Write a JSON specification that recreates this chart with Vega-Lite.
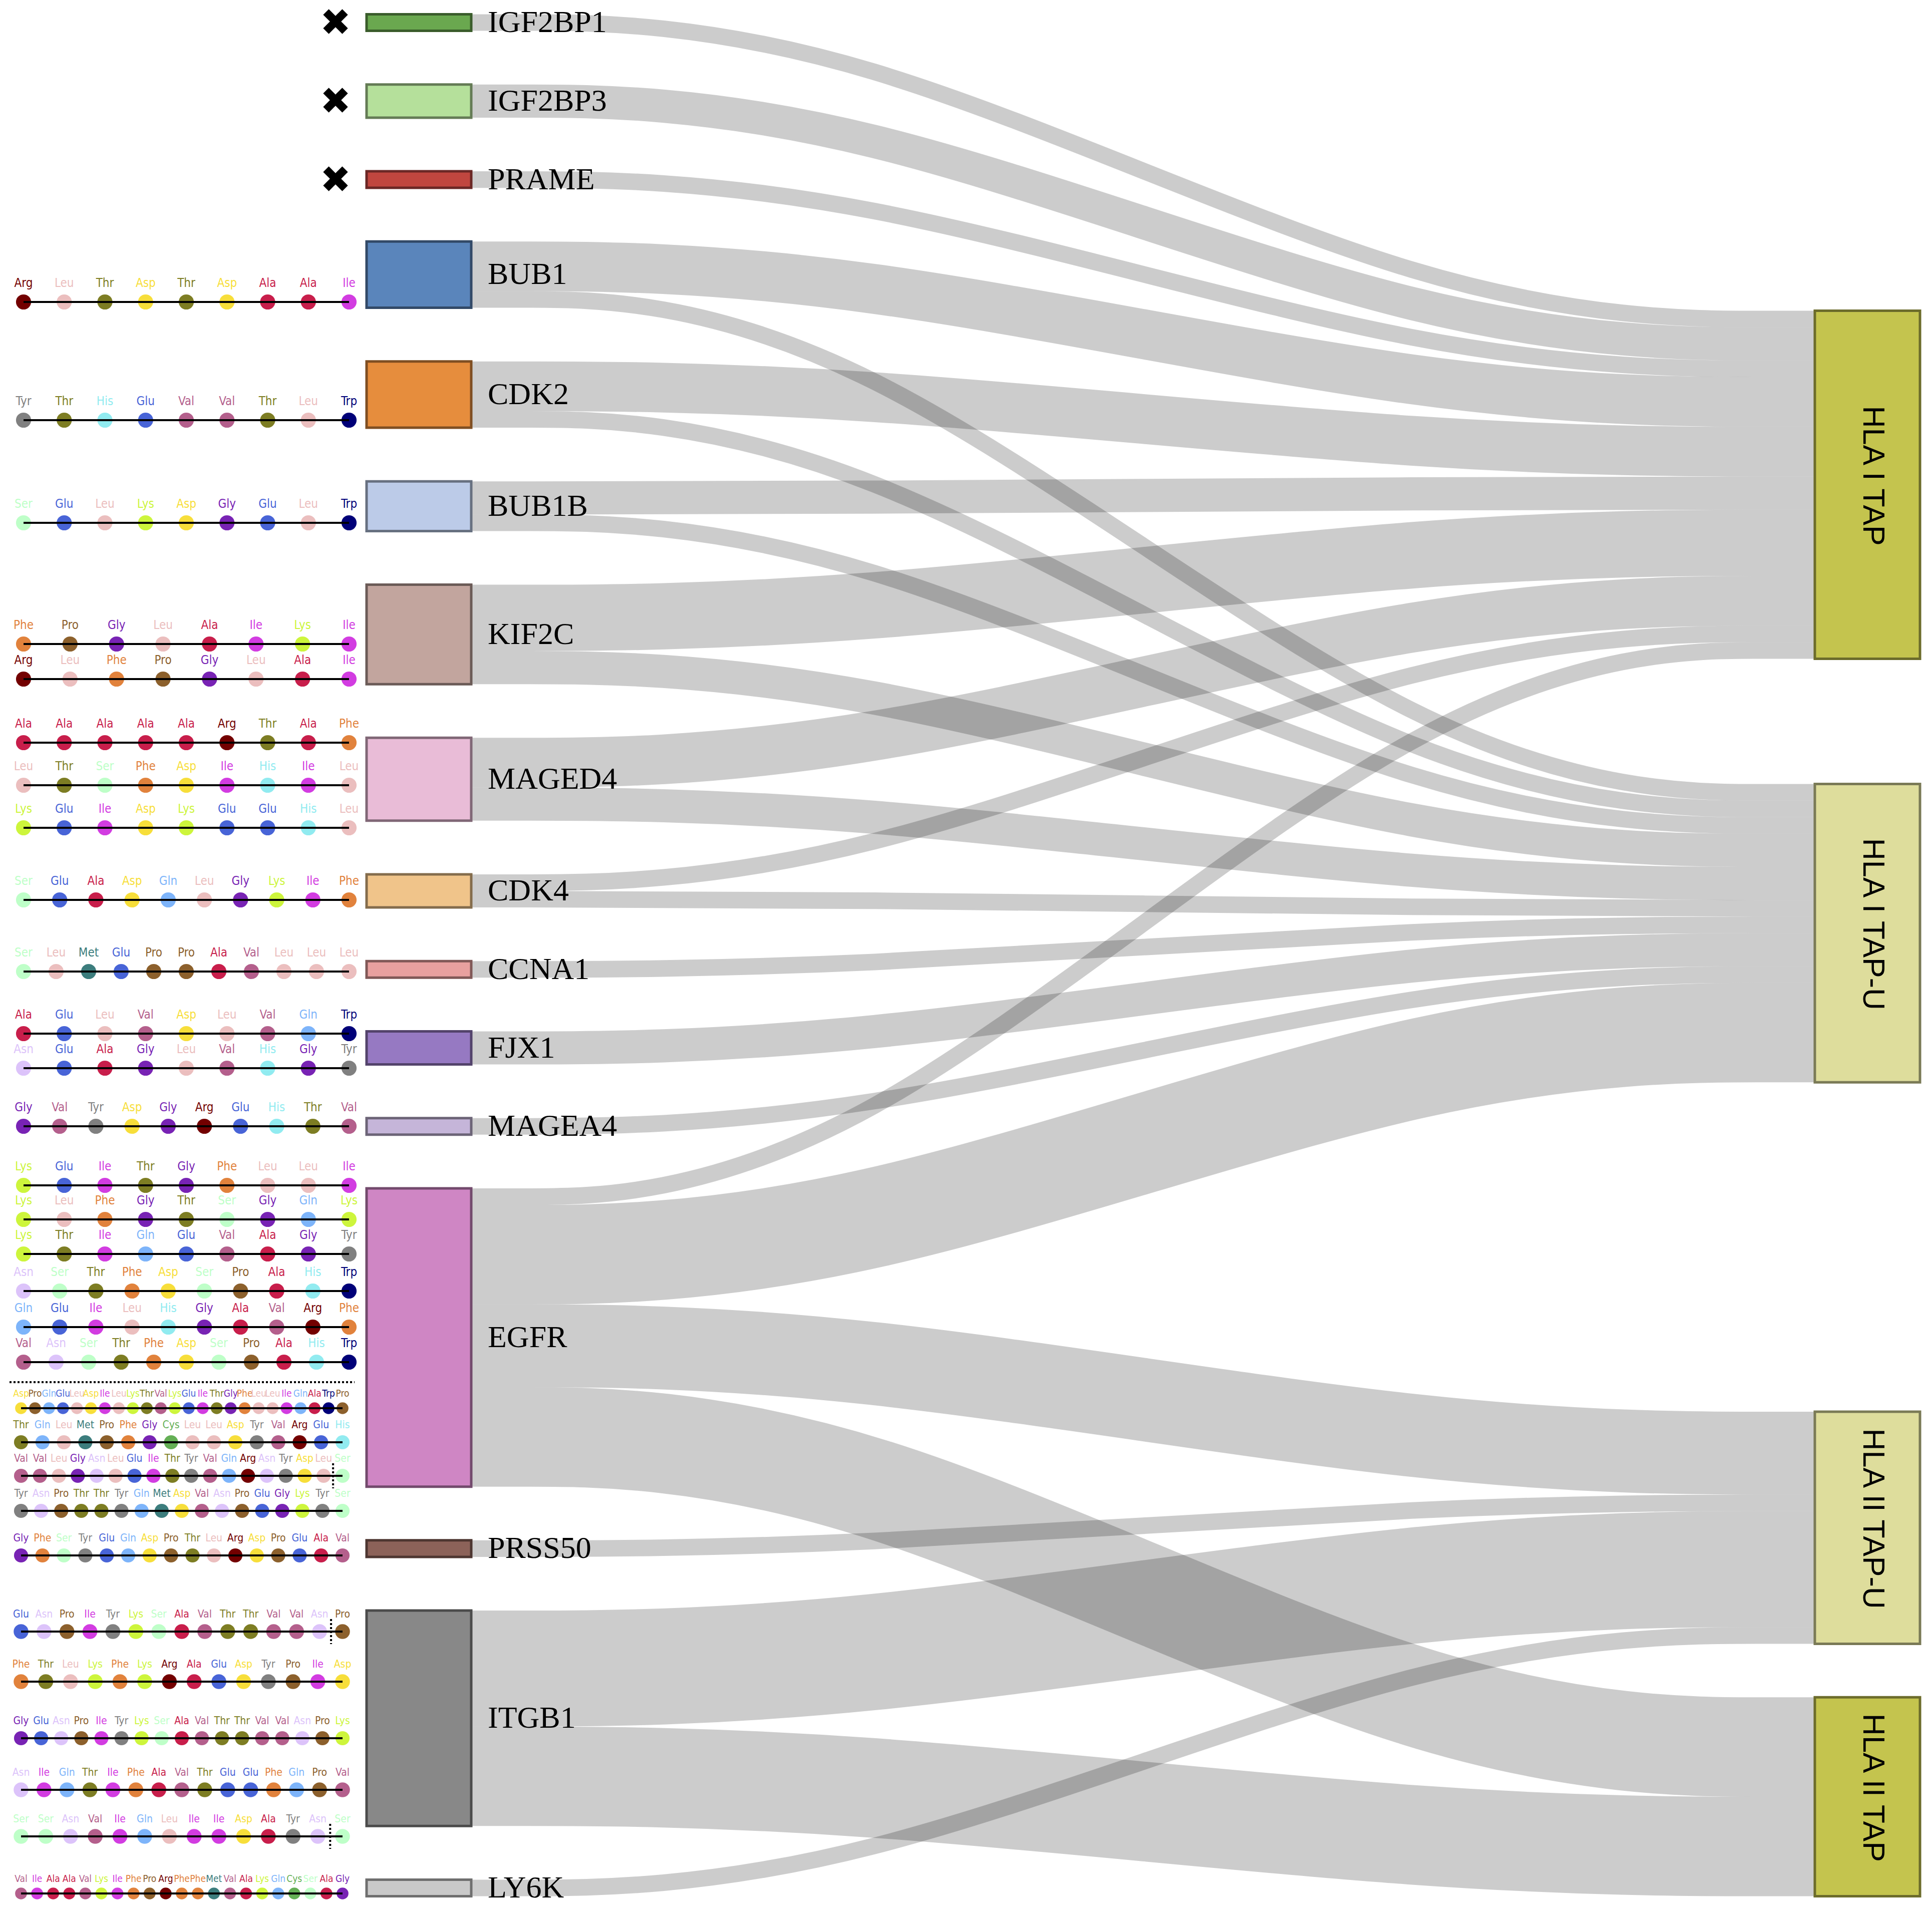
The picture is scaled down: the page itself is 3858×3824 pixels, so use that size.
{
"$schema":"https://vega.github.io/schema/vega-lite/v6.json",
"width":3858,"height":3824,
"autosize":{"type":"none"},
"padding":0,
"background":"white",
"config":{"view":{"stroke":null}},
"datasets":{
"nodes":[
{"name":"IGF2BP1","col":"gene","value":1,"npep":0,"x0":732,"x1":941,"y0":28.5,"y1":61.6},
{"name":"IGF2BP3","col":"gene","value":2,"npep":0,"x0":732,"x1":941,"y0":168.7,"y1":234.9},
{"name":"PRAME","col":"gene","value":1,"npep":0,"x0":732,"x1":941,"y0":342.0,"y1":375.1},
{"name":"BUB1","col":"gene","value":4,"npep":1,"x0":732,"x1":941,"y0":482.2,"y1":614.6},
{"name":"CDK2","col":"gene","value":4,"npep":1,"x0":732,"x1":941,"y0":721.7,"y1":854.1},
{"name":"BUB1B","col":"gene","value":3,"npep":1,"x0":732,"x1":941,"y0":961.2,"y1":1060.5},
{"name":"KIF2C","col":"gene","value":6,"npep":2,"x0":732,"x1":941,"y0":1167.6,"y1":1366.2},
{"name":"MAGED4","col":"gene","value":5,"npep":3,"x0":732,"x1":941,"y0":1473.3,"y1":1638.8},
{"name":"CDK4","col":"gene","value":2,"npep":1,"x0":732,"x1":941,"y0":1745.9,"y1":1812.1},
{"name":"CCNA1","col":"gene","value":1,"npep":1,"x0":732,"x1":941,"y0":1919.2,"y1":1952.3},
{"name":"FJX1","col":"gene","value":2,"npep":2,"x0":732,"x1":941,"y0":2059.4,"y1":2125.6},
{"name":"MAGEA4","col":"gene","value":1,"npep":1,"x0":732,"x1":941,"y0":2232.7,"y1":2265.8},
{"name":"EGFR","col":"gene","value":18,"npep":10,"x0":732,"x1":941,"y0":2372.9,"y1":2968.7},
{"name":"PRSS50","col":"gene","value":1,"npep":1,"x0":732,"x1":941,"y0":3075.8,"y1":3108.9},
{"name":"ITGB1","col":"gene","value":13,"npep":5,"x0":732,"x1":941,"y0":3216.0,"y1":3646.3},
{"name":"LY6K","col":"gene","value":1,"npep":1,"x0":732,"x1":941,"y0":3753.4,"y1":3786.5},
{"name":"HLA I TAP","col":"hla","value":21,"x0":3624,"x1":3834,"y0":620.5,"y1":1315.6},
{"name":"HLA I TAP-U","col":"hla","value":18,"x0":3624,"x1":3834,"y0":1565.5,"y1":2161.3},
{"name":"HLA II TAP-U","col":"hla","value":14,"x0":3624,"x1":3834,"y0":2819,"y1":3282.4},
{"name":"HLA II TAP","col":"hla","value":12,"x0":3624,"x1":3834,"y0":3389.3,"y1":3786.5}
],
"links":[
{"source":"IGF2BP1","target":"HLA I TAP","value":1,"x":941,"y":45.05},{"source":"IGF2BP1","target":"HLA I TAP","value":1,"x":1657,"y":45.05},{"source":"IGF2BP1","target":"HLA I TAP","value":1,"x":2908,"y":637.05},{"source":"IGF2BP1","target":"HLA I TAP","value":1,"x":3624,"y":637.05},
{"source":"IGF2BP3","target":"HLA I TAP","value":2,"x":941,"y":201.8},{"source":"IGF2BP3","target":"HLA I TAP","value":2,"x":1657,"y":201.8},{"source":"IGF2BP3","target":"HLA I TAP","value":2,"x":2908,"y":686.7},{"source":"IGF2BP3","target":"HLA I TAP","value":2,"x":3624,"y":686.7},
{"source":"PRAME","target":"HLA I TAP","value":1,"x":941,"y":358.6},{"source":"PRAME","target":"HLA I TAP","value":1,"x":1657,"y":358.6},{"source":"PRAME","target":"HLA I TAP","value":1,"x":2908,"y":736.35},{"source":"PRAME","target":"HLA I TAP","value":1,"x":3624,"y":736.35},
{"source":"BUB1","target":"HLA I TAP","value":3,"x":941,"y":531.85},{"source":"BUB1","target":"HLA I TAP","value":3,"x":1657,"y":531.85},{"source":"BUB1","target":"HLA I TAP","value":3,"x":2908,"y":802.55},{"source":"BUB1","target":"HLA I TAP","value":3,"x":3624,"y":802.55},
{"source":"BUB1","target":"HLA I TAP-U","value":1,"x":941,"y":598.05},{"source":"BUB1","target":"HLA I TAP-U","value":1,"x":1657,"y":598.05},{"source":"BUB1","target":"HLA I TAP-U","value":1,"x":2908,"y":1582.05},{"source":"BUB1","target":"HLA I TAP-U","value":1,"x":3624,"y":1582.05},
{"source":"CDK2","target":"HLA I TAP","value":3,"x":941,"y":771.35},{"source":"CDK2","target":"HLA I TAP","value":3,"x":1657,"y":771.35},{"source":"CDK2","target":"HLA I TAP","value":3,"x":2908,"y":901.85},{"source":"CDK2","target":"HLA I TAP","value":3,"x":3624,"y":901.85},
{"source":"CDK2","target":"HLA I TAP-U","value":1,"x":941,"y":837.55},{"source":"CDK2","target":"HLA I TAP-U","value":1,"x":1657,"y":837.55},{"source":"CDK2","target":"HLA I TAP-U","value":1,"x":2908,"y":1615.15},{"source":"CDK2","target":"HLA I TAP-U","value":1,"x":3624,"y":1615.15},
{"source":"BUB1B","target":"HLA I TAP","value":2,"x":941,"y":994.3},{"source":"BUB1B","target":"HLA I TAP","value":2,"x":1657,"y":994.3},{"source":"BUB1B","target":"HLA I TAP","value":2,"x":2908,"y":984.6},{"source":"BUB1B","target":"HLA I TAP","value":2,"x":3624,"y":984.6},
{"source":"BUB1B","target":"HLA I TAP-U","value":1,"x":941,"y":1043.95},{"source":"BUB1B","target":"HLA I TAP-U","value":1,"x":1657,"y":1043.95},{"source":"BUB1B","target":"HLA I TAP-U","value":1,"x":2908,"y":1648.25},{"source":"BUB1B","target":"HLA I TAP-U","value":1,"x":3624,"y":1648.25},
{"source":"KIF2C","target":"HLA I TAP","value":4,"x":941,"y":1233.8},{"source":"KIF2C","target":"HLA I TAP","value":4,"x":1657,"y":1233.8},{"source":"KIF2C","target":"HLA I TAP","value":4,"x":2908,"y":1083.9},{"source":"KIF2C","target":"HLA I TAP","value":4,"x":3624,"y":1083.9},
{"source":"KIF2C","target":"HLA I TAP-U","value":2,"x":941,"y":1333.1},{"source":"KIF2C","target":"HLA I TAP-U","value":2,"x":1657,"y":1333.1},{"source":"KIF2C","target":"HLA I TAP-U","value":2,"x":2908,"y":1697.9},{"source":"KIF2C","target":"HLA I TAP-U","value":2,"x":3624,"y":1697.9},
{"source":"MAGED4","target":"HLA I TAP","value":3,"x":941,"y":1522.95},{"source":"MAGED4","target":"HLA I TAP","value":3,"x":1657,"y":1522.95},{"source":"MAGED4","target":"HLA I TAP","value":3,"x":2908,"y":1199.75},{"source":"MAGED4","target":"HLA I TAP","value":3,"x":3624,"y":1199.75},
{"source":"MAGED4","target":"HLA I TAP-U","value":2,"x":941,"y":1605.7},{"source":"MAGED4","target":"HLA I TAP-U","value":2,"x":1657,"y":1605.7},{"source":"MAGED4","target":"HLA I TAP-U","value":2,"x":2908,"y":1764.1},{"source":"MAGED4","target":"HLA I TAP-U","value":2,"x":3624,"y":1764.1},
{"source":"CDK4","target":"HLA I TAP","value":1,"x":941,"y":1762.45},{"source":"CDK4","target":"HLA I TAP","value":1,"x":1657,"y":1762.45},{"source":"CDK4","target":"HLA I TAP","value":1,"x":2908,"y":1265.95},{"source":"CDK4","target":"HLA I TAP","value":1,"x":3624,"y":1265.95},
{"source":"CDK4","target":"HLA I TAP-U","value":1,"x":941,"y":1795.55},{"source":"CDK4","target":"HLA I TAP-U","value":1,"x":1657,"y":1795.55},{"source":"CDK4","target":"HLA I TAP-U","value":1,"x":2908,"y":1813.75},{"source":"CDK4","target":"HLA I TAP-U","value":1,"x":3624,"y":1813.75},
{"source":"CCNA1","target":"HLA I TAP-U","value":1,"x":941,"y":1935.75},{"source":"CCNA1","target":"HLA I TAP-U","value":1,"x":1657,"y":1935.75},{"source":"CCNA1","target":"HLA I TAP-U","value":1,"x":2908,"y":1846.85},{"source":"CCNA1","target":"HLA I TAP-U","value":1,"x":3624,"y":1846.85},
{"source":"FJX1","target":"HLA I TAP-U","value":2,"x":941,"y":2092.5},{"source":"FJX1","target":"HLA I TAP-U","value":2,"x":1657,"y":2092.5},{"source":"FJX1","target":"HLA I TAP-U","value":2,"x":2908,"y":1896.5},{"source":"FJX1","target":"HLA I TAP-U","value":2,"x":3624,"y":1896.5},
{"source":"MAGEA4","target":"HLA I TAP-U","value":1,"x":941,"y":2249.25},{"source":"MAGEA4","target":"HLA I TAP-U","value":1,"x":1657,"y":2249.25},{"source":"MAGEA4","target":"HLA I TAP-U","value":1,"x":2908,"y":1946.15},{"source":"MAGEA4","target":"HLA I TAP-U","value":1,"x":3624,"y":1946.15},
{"source":"EGFR","target":"HLA I TAP","value":1,"x":941,"y":2389.45},{"source":"EGFR","target":"HLA I TAP","value":1,"x":1657,"y":2389.45},{"source":"EGFR","target":"HLA I TAP","value":1,"x":2908,"y":1299.05},{"source":"EGFR","target":"HLA I TAP","value":1,"x":3624,"y":1299.05},
{"source":"EGFR","target":"HLA I TAP-U","value":6,"x":941,"y":2505.3},{"source":"EGFR","target":"HLA I TAP-U","value":6,"x":1657,"y":2505.3},{"source":"EGFR","target":"HLA I TAP-U","value":6,"x":2908,"y":2062.0},{"source":"EGFR","target":"HLA I TAP-U","value":6,"x":3624,"y":2062.0},
{"source":"EGFR","target":"HLA II TAP-U","value":5,"x":941,"y":2687.35},{"source":"EGFR","target":"HLA II TAP-U","value":5,"x":1657,"y":2687.35},{"source":"EGFR","target":"HLA II TAP-U","value":5,"x":2908,"y":2901.75},{"source":"EGFR","target":"HLA II TAP-U","value":5,"x":3624,"y":2901.75},
{"source":"EGFR","target":"HLA II TAP","value":6,"x":941,"y":2869.4},{"source":"EGFR","target":"HLA II TAP","value":6,"x":1657,"y":2869.4},{"source":"EGFR","target":"HLA II TAP","value":6,"x":2908,"y":3488.6},{"source":"EGFR","target":"HLA II TAP","value":6,"x":3624,"y":3488.6},
{"source":"PRSS50","target":"HLA II TAP-U","value":1,"x":941,"y":3092.35},{"source":"PRSS50","target":"HLA II TAP-U","value":1,"x":1657,"y":3092.35},{"source":"PRSS50","target":"HLA II TAP-U","value":1,"x":2908,"y":3001.05},{"source":"PRSS50","target":"HLA II TAP-U","value":1,"x":3624,"y":3001.05},
{"source":"ITGB1","target":"HLA II TAP-U","value":7,"x":941,"y":3331.85},{"source":"ITGB1","target":"HLA II TAP-U","value":7,"x":1657,"y":3331.85},{"source":"ITGB1","target":"HLA II TAP-U","value":7,"x":2908,"y":3133.45},{"source":"ITGB1","target":"HLA II TAP-U","value":7,"x":3624,"y":3133.45},
{"source":"ITGB1","target":"HLA II TAP","value":6,"x":941,"y":3547.0},{"source":"ITGB1","target":"HLA II TAP","value":6,"x":1657,"y":3547.0},{"source":"ITGB1","target":"HLA II TAP","value":6,"x":2908,"y":3687.2},{"source":"ITGB1","target":"HLA II TAP","value":6,"x":3624,"y":3687.2},
{"source":"LY6K","target":"HLA II TAP-U","value":1,"x":941,"y":3769.95},{"source":"LY6K","target":"HLA II TAP-U","value":1,"x":1657,"y":3769.95},{"source":"LY6K","target":"HLA II TAP-U","value":1,"x":2908,"y":3265.85},{"source":"LY6K","target":"HLA II TAP-U","value":1,"x":3624,"y":3265.85}
],
"peptides":[
{"p":"BUB1a","gene":"BUB1","y":603,"n":9},
{"p":"CDK2a","gene":"CDK2","y":839,"n":9},
{"p":"BUB1Ba","gene":"BUB1B","y":1044,"n":9},
{"p":"KIF2Ca","gene":"KIF2C","y":1286,"n":8},
{"p":"KIF2Cb","gene":"KIF2C","y":1356,"n":8},
{"p":"MAGED4a","gene":"MAGED4","y":1483,"n":9},
{"p":"MAGED4b","gene":"MAGED4","y":1568,"n":9},
{"p":"MAGED4c","gene":"MAGED4","y":1653,"n":9},
{"p":"CDK4a","gene":"CDK4","y":1797,"n":10},
{"p":"CCNA1a","gene":"CCNA1","y":1940,"n":11},
{"p":"FJX1a","gene":"FJX1","y":2064,"n":9},
{"p":"FJX1b","gene":"FJX1","y":2133,"n":9},
{"p":"MAGEA4a","gene":"MAGEA4","y":2249,"n":10},
{"p":"EGFRa","gene":"EGFR","y":2367,"n":9},
{"p":"EGFRb","gene":"EGFR","y":2435,"n":9},
{"p":"EGFRc","gene":"EGFR","y":2504,"n":9},
{"p":"EGFRd","gene":"EGFR","y":2578,"n":10},
{"p":"EGFRe","gene":"EGFR","y":2650,"n":10},
{"p":"EGFRf","gene":"EGFR","y":2720,"n":11},
{"p":"EGFRg","gene":"EGFR","y":2812,"n":24},
{"p":"EGFRh","gene":"EGFR","y":2880,"n":16},
{"p":"EGFRi","gene":"EGFR","y":2947,"n":18},
{"p":"EGFRj","gene":"EGFR","y":3017,"n":17},
{"p":"PRSS50a","gene":"PRSS50","y":3106,"n":16},
{"p":"ITGB1a","gene":"ITGB1","y":3258,"n":15},
{"p":"ITGB1b","gene":"ITGB1","y":3358,"n":14},
{"p":"ITGB1c","gene":"ITGB1","y":3471,"n":17},
{"p":"ITGB1d","gene":"ITGB1","y":3574,"n":15},
{"p":"ITGB1e","gene":"ITGB1","y":3667,"n":14},
{"p":"LY6Ka","gene":"LY6K","y":3781,"n":21}
],
"cuts":[
{"p":"EGFRi","at":17.5},
{"p":"ITGB1a","at":14.5},
{"p":"ITGB1e","at":13.5}
],
"dividers":[
{"gene":"EGFR","y":2760,"x0":19,"x1":708}
],
"residues":[
{"p":"BUB1a","i":1,"aa":"Arg"},{"p":"BUB1a","i":2,"aa":"Leu"},{"p":"BUB1a","i":3,"aa":"Thr"},{"p":"BUB1a","i":4,"aa":"Asp"},{"p":"BUB1a","i":5,"aa":"Thr"},{"p":"BUB1a","i":6,"aa":"Asp"},{"p":"BUB1a","i":7,"aa":"Ala"},{"p":"BUB1a","i":8,"aa":"Ala"},{"p":"BUB1a","i":9,"aa":"Ile"},
{"p":"CDK2a","i":1,"aa":"Tyr"},{"p":"CDK2a","i":2,"aa":"Thr"},{"p":"CDK2a","i":3,"aa":"His"},{"p":"CDK2a","i":4,"aa":"Glu"},{"p":"CDK2a","i":5,"aa":"Val"},{"p":"CDK2a","i":6,"aa":"Val"},{"p":"CDK2a","i":7,"aa":"Thr"},{"p":"CDK2a","i":8,"aa":"Leu"},{"p":"CDK2a","i":9,"aa":"Trp"},
{"p":"BUB1Ba","i":1,"aa":"Ser"},{"p":"BUB1Ba","i":2,"aa":"Glu"},{"p":"BUB1Ba","i":3,"aa":"Leu"},{"p":"BUB1Ba","i":4,"aa":"Lys"},{"p":"BUB1Ba","i":5,"aa":"Asp"},{"p":"BUB1Ba","i":6,"aa":"Gly"},{"p":"BUB1Ba","i":7,"aa":"Glu"},{"p":"BUB1Ba","i":8,"aa":"Leu"},{"p":"BUB1Ba","i":9,"aa":"Trp"},
{"p":"KIF2Ca","i":1,"aa":"Phe"},{"p":"KIF2Ca","i":2,"aa":"Pro"},{"p":"KIF2Ca","i":3,"aa":"Gly"},{"p":"KIF2Ca","i":4,"aa":"Leu"},{"p":"KIF2Ca","i":5,"aa":"Ala"},{"p":"KIF2Ca","i":6,"aa":"Ile"},{"p":"KIF2Ca","i":7,"aa":"Lys"},{"p":"KIF2Ca","i":8,"aa":"Ile"},
{"p":"KIF2Cb","i":1,"aa":"Arg"},{"p":"KIF2Cb","i":2,"aa":"Leu"},{"p":"KIF2Cb","i":3,"aa":"Phe"},{"p":"KIF2Cb","i":4,"aa":"Pro"},{"p":"KIF2Cb","i":5,"aa":"Gly"},{"p":"KIF2Cb","i":6,"aa":"Leu"},{"p":"KIF2Cb","i":7,"aa":"Ala"},{"p":"KIF2Cb","i":8,"aa":"Ile"},
{"p":"MAGED4a","i":1,"aa":"Ala"},{"p":"MAGED4a","i":2,"aa":"Ala"},{"p":"MAGED4a","i":3,"aa":"Ala"},{"p":"MAGED4a","i":4,"aa":"Ala"},{"p":"MAGED4a","i":5,"aa":"Ala"},{"p":"MAGED4a","i":6,"aa":"Arg"},{"p":"MAGED4a","i":7,"aa":"Thr"},{"p":"MAGED4a","i":8,"aa":"Ala"},{"p":"MAGED4a","i":9,"aa":"Phe"},
{"p":"MAGED4b","i":1,"aa":"Leu"},{"p":"MAGED4b","i":2,"aa":"Thr"},{"p":"MAGED4b","i":3,"aa":"Ser"},{"p":"MAGED4b","i":4,"aa":"Phe"},{"p":"MAGED4b","i":5,"aa":"Asp"},{"p":"MAGED4b","i":6,"aa":"Ile"},{"p":"MAGED4b","i":7,"aa":"His"},{"p":"MAGED4b","i":8,"aa":"Ile"},{"p":"MAGED4b","i":9,"aa":"Leu"},
{"p":"MAGED4c","i":1,"aa":"Lys"},{"p":"MAGED4c","i":2,"aa":"Glu"},{"p":"MAGED4c","i":3,"aa":"Ile"},{"p":"MAGED4c","i":4,"aa":"Asp"},{"p":"MAGED4c","i":5,"aa":"Lys"},{"p":"MAGED4c","i":6,"aa":"Glu"},{"p":"MAGED4c","i":7,"aa":"Glu"},{"p":"MAGED4c","i":8,"aa":"His"},{"p":"MAGED4c","i":9,"aa":"Leu"},
{"p":"CDK4a","i":1,"aa":"Ser"},{"p":"CDK4a","i":2,"aa":"Glu"},{"p":"CDK4a","i":3,"aa":"Ala"},{"p":"CDK4a","i":4,"aa":"Asp"},{"p":"CDK4a","i":5,"aa":"Gln"},{"p":"CDK4a","i":6,"aa":"Leu"},{"p":"CDK4a","i":7,"aa":"Gly"},{"p":"CDK4a","i":8,"aa":"Lys"},{"p":"CDK4a","i":9,"aa":"Ile"},{"p":"CDK4a","i":10,"aa":"Phe"},
{"p":"CCNA1a","i":1,"aa":"Ser"},{"p":"CCNA1a","i":2,"aa":"Leu"},{"p":"CCNA1a","i":3,"aa":"Met"},{"p":"CCNA1a","i":4,"aa":"Glu"},{"p":"CCNA1a","i":5,"aa":"Pro"},{"p":"CCNA1a","i":6,"aa":"Pro"},{"p":"CCNA1a","i":7,"aa":"Ala"},{"p":"CCNA1a","i":8,"aa":"Val"},{"p":"CCNA1a","i":9,"aa":"Leu"},{"p":"CCNA1a","i":10,"aa":"Leu"},{"p":"CCNA1a","i":11,"aa":"Leu"},
{"p":"FJX1a","i":1,"aa":"Ala"},{"p":"FJX1a","i":2,"aa":"Glu"},{"p":"FJX1a","i":3,"aa":"Leu"},{"p":"FJX1a","i":4,"aa":"Val"},{"p":"FJX1a","i":5,"aa":"Asp"},{"p":"FJX1a","i":6,"aa":"Leu"},{"p":"FJX1a","i":7,"aa":"Val"},{"p":"FJX1a","i":8,"aa":"Gln"},{"p":"FJX1a","i":9,"aa":"Trp"},
{"p":"FJX1b","i":1,"aa":"Asn"},{"p":"FJX1b","i":2,"aa":"Glu"},{"p":"FJX1b","i":3,"aa":"Ala"},{"p":"FJX1b","i":4,"aa":"Gly"},{"p":"FJX1b","i":5,"aa":"Leu"},{"p":"FJX1b","i":6,"aa":"Val"},{"p":"FJX1b","i":7,"aa":"His"},{"p":"FJX1b","i":8,"aa":"Gly"},{"p":"FJX1b","i":9,"aa":"Tyr"},
{"p":"MAGEA4a","i":1,"aa":"Gly"},{"p":"MAGEA4a","i":2,"aa":"Val"},{"p":"MAGEA4a","i":3,"aa":"Tyr"},{"p":"MAGEA4a","i":4,"aa":"Asp"},{"p":"MAGEA4a","i":5,"aa":"Gly"},{"p":"MAGEA4a","i":6,"aa":"Arg"},{"p":"MAGEA4a","i":7,"aa":"Glu"},{"p":"MAGEA4a","i":8,"aa":"His"},{"p":"MAGEA4a","i":9,"aa":"Thr"},{"p":"MAGEA4a","i":10,"aa":"Val"},
{"p":"EGFRa","i":1,"aa":"Lys"},{"p":"EGFRa","i":2,"aa":"Glu"},{"p":"EGFRa","i":3,"aa":"Ile"},{"p":"EGFRa","i":4,"aa":"Thr"},{"p":"EGFRa","i":5,"aa":"Gly"},{"p":"EGFRa","i":6,"aa":"Phe"},{"p":"EGFRa","i":7,"aa":"Leu"},{"p":"EGFRa","i":8,"aa":"Leu"},{"p":"EGFRa","i":9,"aa":"Ile"},
{"p":"EGFRb","i":1,"aa":"Lys"},{"p":"EGFRb","i":2,"aa":"Leu"},{"p":"EGFRb","i":3,"aa":"Phe"},{"p":"EGFRb","i":4,"aa":"Gly"},{"p":"EGFRb","i":5,"aa":"Thr"},{"p":"EGFRb","i":6,"aa":"Ser"},{"p":"EGFRb","i":7,"aa":"Gly"},{"p":"EGFRb","i":8,"aa":"Gln"},{"p":"EGFRb","i":9,"aa":"Lys"},
{"p":"EGFRc","i":1,"aa":"Lys"},{"p":"EGFRc","i":2,"aa":"Thr"},{"p":"EGFRc","i":3,"aa":"Ile"},{"p":"EGFRc","i":4,"aa":"Gln"},{"p":"EGFRc","i":5,"aa":"Glu"},{"p":"EGFRc","i":6,"aa":"Val"},{"p":"EGFRc","i":7,"aa":"Ala"},{"p":"EGFRc","i":8,"aa":"Gly"},{"p":"EGFRc","i":9,"aa":"Tyr"},
{"p":"EGFRd","i":1,"aa":"Asn"},{"p":"EGFRd","i":2,"aa":"Ser"},{"p":"EGFRd","i":3,"aa":"Thr"},{"p":"EGFRd","i":4,"aa":"Phe"},{"p":"EGFRd","i":5,"aa":"Asp"},{"p":"EGFRd","i":6,"aa":"Ser"},{"p":"EGFRd","i":7,"aa":"Pro"},{"p":"EGFRd","i":8,"aa":"Ala"},{"p":"EGFRd","i":9,"aa":"His"},{"p":"EGFRd","i":10,"aa":"Trp"},
{"p":"EGFRe","i":1,"aa":"Gln"},{"p":"EGFRe","i":2,"aa":"Glu"},{"p":"EGFRe","i":3,"aa":"Ile"},{"p":"EGFRe","i":4,"aa":"Leu"},{"p":"EGFRe","i":5,"aa":"His"},{"p":"EGFRe","i":6,"aa":"Gly"},{"p":"EGFRe","i":7,"aa":"Ala"},{"p":"EGFRe","i":8,"aa":"Val"},{"p":"EGFRe","i":9,"aa":"Arg"},{"p":"EGFRe","i":10,"aa":"Phe"},
{"p":"EGFRf","i":1,"aa":"Val"},{"p":"EGFRf","i":2,"aa":"Asn"},{"p":"EGFRf","i":3,"aa":"Ser"},{"p":"EGFRf","i":4,"aa":"Thr"},{"p":"EGFRf","i":5,"aa":"Phe"},{"p":"EGFRf","i":6,"aa":"Asp"},{"p":"EGFRf","i":7,"aa":"Ser"},{"p":"EGFRf","i":8,"aa":"Pro"},{"p":"EGFRf","i":9,"aa":"Ala"},{"p":"EGFRf","i":10,"aa":"His"},{"p":"EGFRf","i":11,"aa":"Trp"},
{"p":"EGFRg","i":1,"aa":"Asp"},{"p":"EGFRg","i":2,"aa":"Pro"},{"p":"EGFRg","i":3,"aa":"Gln"},{"p":"EGFRg","i":4,"aa":"Glu"},{"p":"EGFRg","i":5,"aa":"Leu"},{"p":"EGFRg","i":6,"aa":"Asp"},{"p":"EGFRg","i":7,"aa":"Ile"},{"p":"EGFRg","i":8,"aa":"Leu"},{"p":"EGFRg","i":9,"aa":"Lys"},{"p":"EGFRg","i":10,"aa":"Thr"},{"p":"EGFRg","i":11,"aa":"Val"},{"p":"EGFRg","i":12,"aa":"Lys"},{"p":"EGFRg","i":13,"aa":"Glu"},{"p":"EGFRg","i":14,"aa":"Ile"},{"p":"EGFRg","i":15,"aa":"Thr"},{"p":"EGFRg","i":16,"aa":"Gly"},{"p":"EGFRg","i":17,"aa":"Phe"},{"p":"EGFRg","i":18,"aa":"Leu"},{"p":"EGFRg","i":19,"aa":"Leu"},{"p":"EGFRg","i":20,"aa":"Ile"},{"p":"EGFRg","i":21,"aa":"Gln"},{"p":"EGFRg","i":22,"aa":"Ala"},{"p":"EGFRg","i":23,"aa":"Trp"},{"p":"EGFRg","i":24,"aa":"Pro"},
{"p":"EGFRh","i":1,"aa":"Thr"},{"p":"EGFRh","i":2,"aa":"Gln"},{"p":"EGFRh","i":3,"aa":"Leu"},{"p":"EGFRh","i":4,"aa":"Met"},{"p":"EGFRh","i":5,"aa":"Pro"},{"p":"EGFRh","i":6,"aa":"Phe"},{"p":"EGFRh","i":7,"aa":"Gly"},{"p":"EGFRh","i":8,"aa":"Cys"},{"p":"EGFRh","i":9,"aa":"Leu"},{"p":"EGFRh","i":10,"aa":"Leu"},{"p":"EGFRh","i":11,"aa":"Asp"},{"p":"EGFRh","i":12,"aa":"Tyr"},{"p":"EGFRh","i":13,"aa":"Val"},{"p":"EGFRh","i":14,"aa":"Arg"},{"p":"EGFRh","i":15,"aa":"Glu"},{"p":"EGFRh","i":16,"aa":"His"},
{"p":"EGFRi","i":1,"aa":"Val"},{"p":"EGFRi","i":2,"aa":"Val"},{"p":"EGFRi","i":3,"aa":"Leu"},{"p":"EGFRi","i":4,"aa":"Gly"},{"p":"EGFRi","i":5,"aa":"Asn"},{"p":"EGFRi","i":6,"aa":"Leu"},{"p":"EGFRi","i":7,"aa":"Glu"},{"p":"EGFRi","i":8,"aa":"Ile"},{"p":"EGFRi","i":9,"aa":"Thr"},{"p":"EGFRi","i":10,"aa":"Tyr"},{"p":"EGFRi","i":11,"aa":"Val"},{"p":"EGFRi","i":12,"aa":"Gln"},{"p":"EGFRi","i":13,"aa":"Arg"},{"p":"EGFRi","i":14,"aa":"Asn"},{"p":"EGFRi","i":15,"aa":"Tyr"},{"p":"EGFRi","i":16,"aa":"Asp"},{"p":"EGFRi","i":17,"aa":"Leu"},{"p":"EGFRi","i":18,"aa":"Ser"},
{"p":"EGFRj","i":1,"aa":"Tyr"},{"p":"EGFRj","i":2,"aa":"Asn"},{"p":"EGFRj","i":3,"aa":"Pro"},{"p":"EGFRj","i":4,"aa":"Thr"},{"p":"EGFRj","i":5,"aa":"Thr"},{"p":"EGFRj","i":6,"aa":"Tyr"},{"p":"EGFRj","i":7,"aa":"Gln"},{"p":"EGFRj","i":8,"aa":"Met"},{"p":"EGFRj","i":9,"aa":"Asp"},{"p":"EGFRj","i":10,"aa":"Val"},{"p":"EGFRj","i":11,"aa":"Asn"},{"p":"EGFRj","i":12,"aa":"Pro"},{"p":"EGFRj","i":13,"aa":"Glu"},{"p":"EGFRj","i":14,"aa":"Gly"},{"p":"EGFRj","i":15,"aa":"Lys"},{"p":"EGFRj","i":16,"aa":"Tyr"},{"p":"EGFRj","i":17,"aa":"Ser"},
{"p":"PRSS50a","i":1,"aa":"Gly"},{"p":"PRSS50a","i":2,"aa":"Phe"},{"p":"PRSS50a","i":3,"aa":"Ser"},{"p":"PRSS50a","i":4,"aa":"Tyr"},{"p":"PRSS50a","i":5,"aa":"Glu"},{"p":"PRSS50a","i":6,"aa":"Gln"},{"p":"PRSS50a","i":7,"aa":"Asp"},{"p":"PRSS50a","i":8,"aa":"Pro"},{"p":"PRSS50a","i":9,"aa":"Thr"},{"p":"PRSS50a","i":10,"aa":"Leu"},{"p":"PRSS50a","i":11,"aa":"Arg"},{"p":"PRSS50a","i":12,"aa":"Asp"},{"p":"PRSS50a","i":13,"aa":"Pro"},{"p":"PRSS50a","i":14,"aa":"Glu"},{"p":"PRSS50a","i":15,"aa":"Ala"},{"p":"PRSS50a","i":16,"aa":"Val"},
{"p":"ITGB1a","i":1,"aa":"Glu"},{"p":"ITGB1a","i":2,"aa":"Asn"},{"p":"ITGB1a","i":3,"aa":"Pro"},{"p":"ITGB1a","i":4,"aa":"Ile"},{"p":"ITGB1a","i":5,"aa":"Tyr"},{"p":"ITGB1a","i":6,"aa":"Lys"},{"p":"ITGB1a","i":7,"aa":"Ser"},{"p":"ITGB1a","i":8,"aa":"Ala"},{"p":"ITGB1a","i":9,"aa":"Val"},{"p":"ITGB1a","i":10,"aa":"Thr"},{"p":"ITGB1a","i":11,"aa":"Thr"},{"p":"ITGB1a","i":12,"aa":"Val"},{"p":"ITGB1a","i":13,"aa":"Val"},{"p":"ITGB1a","i":14,"aa":"Asn"},{"p":"ITGB1a","i":15,"aa":"Pro"},
{"p":"ITGB1b","i":1,"aa":"Phe"},{"p":"ITGB1b","i":2,"aa":"Thr"},{"p":"ITGB1b","i":3,"aa":"Leu"},{"p":"ITGB1b","i":4,"aa":"Lys"},{"p":"ITGB1b","i":5,"aa":"Phe"},{"p":"ITGB1b","i":6,"aa":"Lys"},{"p":"ITGB1b","i":7,"aa":"Arg"},{"p":"ITGB1b","i":8,"aa":"Ala"},{"p":"ITGB1b","i":9,"aa":"Glu"},{"p":"ITGB1b","i":10,"aa":"Asp"},{"p":"ITGB1b","i":11,"aa":"Tyr"},{"p":"ITGB1b","i":12,"aa":"Pro"},{"p":"ITGB1b","i":13,"aa":"Ile"},{"p":"ITGB1b","i":14,"aa":"Asp"},
{"p":"ITGB1c","i":1,"aa":"Gly"},{"p":"ITGB1c","i":2,"aa":"Glu"},{"p":"ITGB1c","i":3,"aa":"Asn"},{"p":"ITGB1c","i":4,"aa":"Pro"},{"p":"ITGB1c","i":5,"aa":"Ile"},{"p":"ITGB1c","i":6,"aa":"Tyr"},{"p":"ITGB1c","i":7,"aa":"Lys"},{"p":"ITGB1c","i":8,"aa":"Ser"},{"p":"ITGB1c","i":9,"aa":"Ala"},{"p":"ITGB1c","i":10,"aa":"Val"},{"p":"ITGB1c","i":11,"aa":"Thr"},{"p":"ITGB1c","i":12,"aa":"Thr"},{"p":"ITGB1c","i":13,"aa":"Val"},{"p":"ITGB1c","i":14,"aa":"Val"},{"p":"ITGB1c","i":15,"aa":"Asn"},{"p":"ITGB1c","i":16,"aa":"Pro"},{"p":"ITGB1c","i":17,"aa":"Lys"},
{"p":"ITGB1d","i":1,"aa":"Asn"},{"p":"ITGB1d","i":2,"aa":"Ile"},{"p":"ITGB1d","i":3,"aa":"Gln"},{"p":"ITGB1d","i":4,"aa":"Thr"},{"p":"ITGB1d","i":5,"aa":"Ile"},{"p":"ITGB1d","i":6,"aa":"Phe"},{"p":"ITGB1d","i":7,"aa":"Ala"},{"p":"ITGB1d","i":8,"aa":"Val"},{"p":"ITGB1d","i":9,"aa":"Thr"},{"p":"ITGB1d","i":10,"aa":"Glu"},{"p":"ITGB1d","i":11,"aa":"Glu"},{"p":"ITGB1d","i":12,"aa":"Phe"},{"p":"ITGB1d","i":13,"aa":"Gln"},{"p":"ITGB1d","i":14,"aa":"Pro"},{"p":"ITGB1d","i":15,"aa":"Val"},
{"p":"ITGB1e","i":1,"aa":"Ser"},{"p":"ITGB1e","i":2,"aa":"Ser"},{"p":"ITGB1e","i":3,"aa":"Asn"},{"p":"ITGB1e","i":4,"aa":"Val"},{"p":"ITGB1e","i":5,"aa":"Ile"},{"p":"ITGB1e","i":6,"aa":"Gln"},{"p":"ITGB1e","i":7,"aa":"Leu"},{"p":"ITGB1e","i":8,"aa":"Ile"},{"p":"ITGB1e","i":9,"aa":"Ile"},{"p":"ITGB1e","i":10,"aa":"Asp"},{"p":"ITGB1e","i":11,"aa":"Ala"},{"p":"ITGB1e","i":12,"aa":"Tyr"},{"p":"ITGB1e","i":13,"aa":"Asn"},{"p":"ITGB1e","i":14,"aa":"Ser"},
{"p":"LY6Ka","i":1,"aa":"Val"},{"p":"LY6Ka","i":2,"aa":"Ile"},{"p":"LY6Ka","i":3,"aa":"Ala"},{"p":"LY6Ka","i":4,"aa":"Ala"},{"p":"LY6Ka","i":5,"aa":"Val"},{"p":"LY6Ka","i":6,"aa":"Lys"},{"p":"LY6Ka","i":7,"aa":"Ile"},{"p":"LY6Ka","i":8,"aa":"Phe"},{"p":"LY6Ka","i":9,"aa":"Pro"},{"p":"LY6Ka","i":10,"aa":"Arg"},{"p":"LY6Ka","i":11,"aa":"Phe"},{"p":"LY6Ka","i":12,"aa":"Phe"},{"p":"LY6Ka","i":13,"aa":"Met"},{"p":"LY6Ka","i":14,"aa":"Val"},{"p":"LY6Ka","i":15,"aa":"Ala"},{"p":"LY6Ka","i":16,"aa":"Lys"},{"p":"LY6Ka","i":17,"aa":"Gln"},{"p":"LY6Ka","i":18,"aa":"Cys"},{"p":"LY6Ka","i":19,"aa":"Ser"},{"p":"LY6Ka","i":20,"aa":"Ala"},{"p":"LY6Ka","i":21,"aa":"Gly"}
]
},
"layer":[
{"data":{"name":"links"},
 "mark":{"type":"line","interpolate":"basis","stroke":"#000000","strokeOpacity":0.2,"strokeCap":"butt"},
 "encoding":{
  "x":{"field":"x","type":"quantitative","scale":{"domain":[0,3858],"nice":false,"zero":false},"axis":null},
  "y":{"field":"y","type":"quantitative","scale":{"domain":[0,3824],"nice":false,"zero":false,"reverse":true},"axis":null},
  "detail":[{"field":"source","type":"nominal"},{"field":"target","type":"nominal"}],
  "order":{"field":"x","type":"quantitative"},
  "strokeWidth":{"field":"value","type":"quantitative","scale":{"type":"linear","domain":[0,1],"range":[0,33.1],"zero":true},"legend":null}
 }},
{"data":{"name":"nodes"},
 "mark":{"type":"rect","strokeWidth":5},
 "encoding":{
  "x":{"field":"x0","type":"quantitative","scale":{"domain":[0,3858],"nice":false,"zero":false},"axis":null},
  "x2":{"field":"x1"},
  "y":{"field":"y0","type":"quantitative","scale":{"domain":[0,3824],"nice":false,"zero":false,"reverse":true},"axis":null},
  "y2":{"field":"y1"},
  "fill":{"field":"name","type":"nominal","legend":null,"scale":{
    "domain":["IGF2BP1","IGF2BP3","PRAME","BUB1","CDK2","BUB1B","KIF2C","MAGED4","CDK4","CCNA1","FJX1","MAGEA4","EGFR","PRSS50","ITGB1","LY6K","HLA I TAP","HLA I TAP-U","HLA II TAP-U","HLA II TAP"],
    "range":["#6aa84f","#b5e09b","#c0463f","#5a85bb","#e68d3d","#bccbe8","#c2a59e","#e9bcd7","#f0c48a","#e8a09f","#9679c2","#c5b5d9","#cf86c4","#8c6259","#888888","#c9c9c9","#c4c44e","#dedd9c","#dedd9c","#c4c44e"]}},
  "stroke":{"field":"name","type":"nominal","legend":null,"scale":{
    "domain":["IGF2BP1","IGF2BP3","PRAME","BUB1","CDK2","BUB1B","KIF2C","MAGED4","CDK4","CCNA1","FJX1","MAGEA4","EGFR","PRSS50","ITGB1","LY6K","HLA I TAP","HLA I TAP-U","HLA II TAP-U","HLA II TAP"],
    "range":["#3a5c2b","#647b55","#6a2725","#324967","#7f4e22","#677080","#6b5b57","#806776","#846c4c","#805857","#53436b","#6c6477","#724a6c","#4d3631","#4b4b4b","#6f6f6f","#6c6c2b","#7a7a56","#7a7a56","#6c6c2b"]}}
 }},
{"data":{"name":"nodes"},
 "transform":[{"filter":"datum.col === 'gene'"},{"calculate":"(datum.y0 + datum.y1) / 2","as":"ym"}],
 "mark":{"type":"text","align":"left","baseline":"middle","dx":33,"font":"Liberation Serif, Times New Roman, serif","fontSize":62,"color":"#000000"},
 "encoding":{
  "x":{"field":"x1","type":"quantitative","scale":{"domain":[0,3858],"nice":false,"zero":false},"axis":null},
  "y":{"field":"ym","type":"quantitative","scale":{"domain":[0,3824],"nice":false,"zero":false,"reverse":true},"axis":null},
  "text":{"field":"name","type":"nominal"}
 }},
{"data":{"name":"nodes"},
 "transform":[{"filter":"datum.col === 'hla'"},{"calculate":"(datum.y0 + datum.y1) / 2","as":"ym"}],
 "mark":{"type":"text","align":"center","baseline":"middle","angle":90,"dx":-18,"dy":-115,"font":"Liberation Sans, Arial, sans-serif","fontSize":61,"color":"#000000"},
 "encoding":{
  "x":{"field":"x0","type":"quantitative","scale":{"domain":[0,3858],"nice":false,"zero":false},"axis":null},
  "y":{"field":"ym","type":"quantitative","scale":{"domain":[0,3824],"nice":false,"zero":false,"reverse":true},"axis":null},
  "text":{"field":"name","type":"nominal"}
 }},
{"data":{"name":"nodes"},
 "transform":[{"filter":"datum.npep === 0"},{"calculate":"(datum.y0 + datum.y1) / 2","as":"ym"}],
 "mark":{"type":"text","align":"center","baseline":"middle","dx":-62,"dy":3,"font":"DejaVu Sans","fontSize":74,"color":"#000000","text":"✖"},
 "encoding":{
  "x":{"field":"x0","type":"quantitative","scale":{"domain":[0,3858],"nice":false,"zero":false},"axis":null},
  "y":{"field":"ym","type":"quantitative","scale":{"domain":[0,3824],"nice":false,"zero":false,"reverse":true},"axis":null}
 }},
{"data":{"name":"residues"},
 "transform":[
  {"lookup":"p","from":{"data":{"name":"peptides"},"key":"p","fields":["y","n"]}},
  {"calculate":"datum.n < 12 ? 47 + (datum.i - 1) * 650 / (datum.n - 1) : 42 + (datum.i - 1) * 642 / (datum.n - 1)","as":"px"}
 ],
 "layer":[
  {"mark":{"type":"point","shape":"circle","filled":true,"opacity":1,"strokeWidth":0},
   "encoding":{
    "x":{"field":"px","type":"quantitative","scale":{"domain":[0,3858],"nice":false,"zero":false},"axis":null},
    "y":{"field":"y","type":"quantitative","scale":{"domain":[0,3824],"nice":false,"zero":false,"reverse":true},"axis":null},
    "color":{"field":"aa","type":"nominal","legend":null,"scale":{
      "domain":["Ala","Arg","Asn","Asp","Cys","Gln","Glu","Gly","His","Ile","Leu","Lys","Met","Phe","Pro","Ser","Thr","Trp","Tyr","Val"],
      "range":["#c81e4b","#730000","#dcc3fa","#f7de3a","#64af55","#7db4fa","#4864d7","#7823b4","#91ebf0","#d23ce1","#ebbebe","#cdf53c","#3c7d7d","#e1823c","#8c602c","#beffc8","#7d7d23","#000078","#808080","#b45f8c"]}},
    "size":{"field":"n","type":"quantitative","legend":null,"scale":{"type":"threshold","domain":[12,16,20],"range":[908,870,790,560]}}
   }},
  {"mark":{"type":"line","color":"#000000","strokeWidth":4},
   "encoding":{
    "x":{"field":"px","type":"quantitative","scale":{"domain":[0,3858],"nice":false,"zero":false},"axis":null},
    "y":{"field":"y","type":"quantitative","scale":{"domain":[0,3824],"nice":false,"zero":false,"reverse":true},"axis":null},
    "detail":{"field":"p","type":"nominal"},
    "order":{"field":"i","type":"quantitative"}
   }},
  {"transform":[{"filter":"datum.n < 12"}],
   "mark":{"type":"text","align":"center","baseline":"alphabetic","dy":-30,"fontSize":24,"font":"Liberation Sans Narrow, Arial Narrow, DejaVu Sans Condensed, Liberation Sans, sans-serif"},
   "encoding":{
    "x":{"field":"px","type":"quantitative","scale":{"domain":[0,3858],"nice":false,"zero":false},"axis":null},
    "y":{"field":"y","type":"quantitative","scale":{"domain":[0,3824],"nice":false,"zero":false,"reverse":true},"axis":null},
    "text":{"field":"aa","type":"nominal"},
    "color":{"field":"aa","type":"nominal","legend":null}
   }},
  {"transform":[{"filter":"datum.n >= 12 && datum.n < 20"}],
   "mark":{"type":"text","align":"center","baseline":"alphabetic","dy":-28,"fontSize":21,"font":"Liberation Sans Narrow, Arial Narrow, DejaVu Sans Condensed, Liberation Sans, sans-serif"},
   "encoding":{
    "x":{"field":"px","type":"quantitative","scale":{"domain":[0,3858],"nice":false,"zero":false},"axis":null},
    "y":{"field":"y","type":"quantitative","scale":{"domain":[0,3824],"nice":false,"zero":false,"reverse":true},"axis":null},
    "text":{"field":"aa","type":"nominal"},
    "color":{"field":"aa","type":"nominal","legend":null}
   }},
  {"transform":[{"filter":"datum.n >= 20"}],
   "mark":{"type":"text","align":"center","baseline":"alphabetic","dy":-23,"fontSize":19,"font":"Liberation Sans Narrow, Arial Narrow, DejaVu Sans Condensed, Liberation Sans, sans-serif"},
   "encoding":{
    "x":{"field":"px","type":"quantitative","scale":{"domain":[0,3858],"nice":false,"zero":false},"axis":null},
    "y":{"field":"y","type":"quantitative","scale":{"domain":[0,3824],"nice":false,"zero":false,"reverse":true},"axis":null},
    "text":{"field":"aa","type":"nominal"},
    "color":{"field":"aa","type":"nominal","legend":null}
   }}
 ]},
{"data":{"name":"cuts"},
 "transform":[
  {"lookup":"p","from":{"data":{"name":"peptides"},"key":"p","fields":["y","n"]}},
  {"calculate":"datum.n < 12 ? 47 + (datum.at - 1) * 650 / (datum.n - 1) : 42 + (datum.at - 1) * 642 / (datum.n - 1)","as":"px"}
 ],
 "mark":{"type":"point","shape":"M0,-1L0,1","size":2500,"filled":false,"stroke":"#000000","strokeWidth":4,"strokeDash":[4,4],"opacity":1},
 "encoding":{
  "x":{"field":"px","type":"quantitative","scale":{"domain":[0,3858],"nice":false,"zero":false},"axis":null},
  "y":{"field":"y","type":"quantitative","scale":{"domain":[0,3824],"nice":false,"zero":false,"reverse":true},"axis":null}
 }},
{"data":{"name":"dividers"},
 "mark":{"type":"rule","color":"#000000","strokeWidth":4,"strokeDash":[4,4]},
 "encoding":{
  "x":{"field":"x0","type":"quantitative","scale":{"domain":[0,3858],"nice":false,"zero":false},"axis":null},
  "x2":{"field":"x1"},
  "y":{"field":"y","type":"quantitative","scale":{"domain":[0,3824],"nice":false,"zero":false,"reverse":true},"axis":null}
 }}
]
}
